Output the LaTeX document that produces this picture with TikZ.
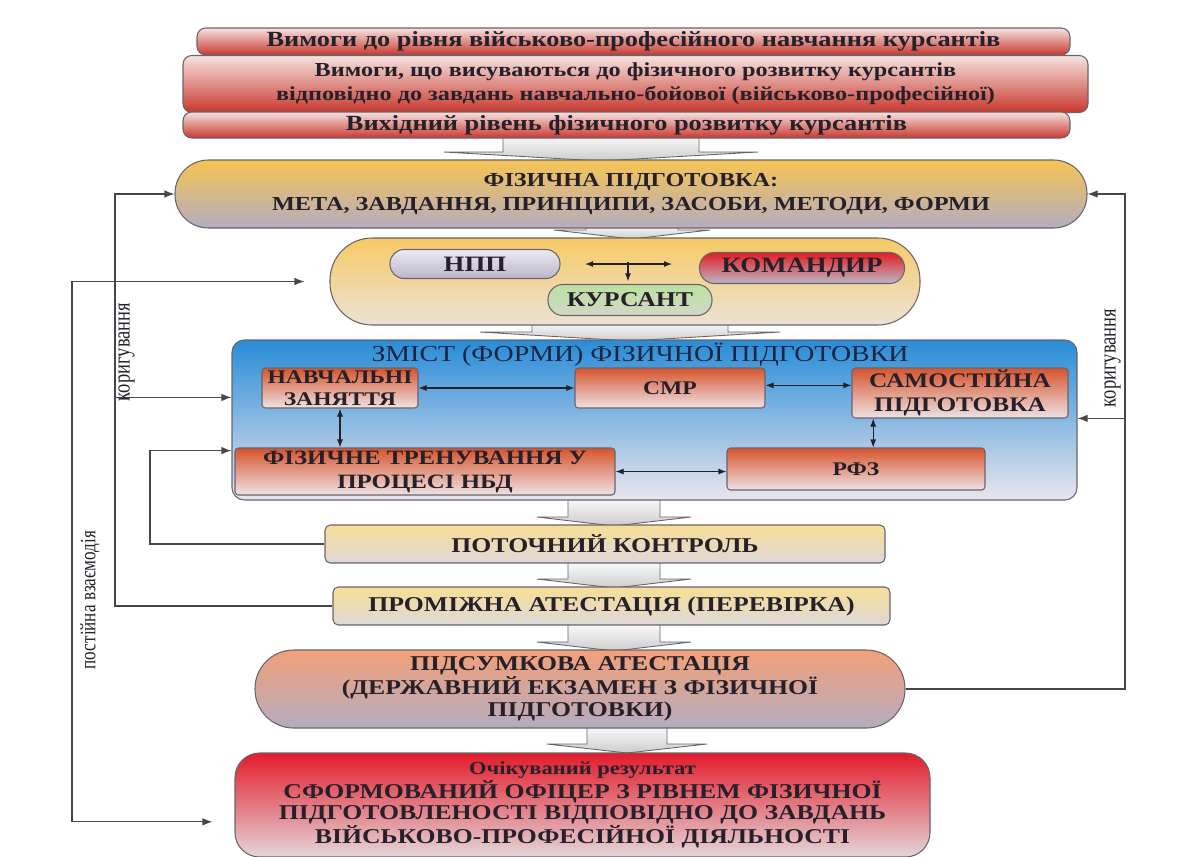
\documentclass[tikz,border=0pt]{standalone}
\usepackage{fontspec}
\setmainfont{Liberation Serif}[FakeStretch=1.22]
\newfontfamily\narrowfont{Liberation Serif}[FakeStretch=0.78]
\usetikzlibrary{calc,arrows.meta}
\newcommand\fsz[2]{\fontsize{#1}{#2}\selectfont}
\definecolor{ink}{RGB}{38,32,42}
\definecolor{navy}{RGB}{28,36,64}
\definecolor{rim}{RGB}{105,100,108}
\definecolor{wire}{RGB}{70,70,75}
\definecolor{rosetop}{RGB}{246,226,224}
\definecolor{redbot}{RGB}{200,55,45}
\definecolor{goldtop}{RGB}{246,196,84}
\definecolor{greybot}{RGB}{180,172,192}
\definecolor{lilac}{RGB}{236,234,242}
\definecolor{lilacbot}{RGB}{186,182,200}
\definecolor{cmdred}{RGB}{226,30,34}
\definecolor{leaf}{RGB}{188,226,158}
\definecolor{leafbot}{RGB}{210,214,200}
\definecolor{skytop}{RGB}{40,140,215}
\definecolor{skybot}{RGB}{234,230,238}
\definecolor{ochre}{RGB}{214,84,44}
\definecolor{ochrebot}{RGB}{238,226,228}
\definecolor{paletop}{RGB}{247,222,150}
\definecolor{palebot}{RGB}{222,216,216}
\definecolor{salmon}{RGB}{242,160,120}
\definecolor{resred}{RGB}{226,28,44}
\definecolor{resbot}{RGB}{228,214,216}
%% wide grey arrow between two blocks: centre x, top, tip, stem half width, head half width
\newcommand{\flowarrow}[5]{\draw[rim,line width=0.5pt,top color=white,bottom color=gray!40]
	(#1-#4,#2) -- (#1-#4,#3-9) -- (#1-#5,#3-9) -- (#1,#3) -- (#1+#5,#3-9) -- (#1+#4,#3-9) -- (#1+#4,#2);}

\begin{document}
\begin{tikzpicture}[x=0.02cm,y=-0.02cm,>={Latex[length=2mm,width=1.5mm]},
	every node/.style={inner sep=0pt,align=center,text=ink},
	dim/.style 2 args={minimum width=#1*0.02cm,minimum height=#2*0.02cm},
	bar/.style={draw=rim,line width=0.6pt,rounded corners=#1,font=\bfseries\fsz{11.3}{13.6}},
	bar/.default=5pt,
	redbar/.style={bar,top color=rosetop,bottom color=redbot},
	goldbar/.style={bar=#1,top color=goldtop,bottom color=greybot},
	innerbox/.style={bar=2pt,top color=ochre,bottom color=ochrebot,font=\bfseries\fsz{11}{12.4}},
	palebar/.style={bar=3pt,top color=paletop,bottom color=palebot,font=\bfseries\fsz{12}{14}},
	link/.style={draw=wire,line width=0.7pt},
	dbl/.style={draw=ink,line width=0.6pt,{Latex[length=1.6mm,width=1.2mm]}-{Latex[length=1.6mm,width=1.2mm]}},
	note/.style={font=\narrowfont\fsz{13.5}{14},rotate=90,text=ink}]
\useasboundingbox (0,0) rectangle (1189,856);

\coordinate (lx1) at (72,0);
\coordinate (lx2) at (115,0);
\coordinate (lx3) at (150,0);
\coordinate (rx) at (1125,0);

%% grey block arrows first, the blocks cover their stems
\flowarrow{601}{133}{161}{98}{157}
\flowarrow{632}{224}{239}{46}{78}
\flowarrow{630}{320}{341}{98}{150}
\flowarrow{614}{495}{526}{46}{77}
\flowarrow{614}{560}{588}{46}{77}
\flowarrow{614}{622}{651}{46}{77}
\flowarrow{627}{724}{753}{40}{80}

%% requirements
\node[redbar,dim={873}{27},font=\bfseries\fsz{12.3}{13.6}] (reqA) at (633.5,41.5) {Вимоги до рівня військово-професійного навчання курсантів};
\node[redbar,dim={905}{57}] (reqB) at (635.5,84) {Вимоги, що висуваються до фізичного розвитку курсантів\\
	відповідно до завдань навчально-бойової (військово-професійної)};
\node[redbar,dim={887}{26},font=\bfseries\fsz{12.3}{13.6}] (reqC) at (626.5,125) {Вихідний рівень фізичного розвитку курсантів};

\node[goldbar=19pt,dim={912}{68}] (phys) at (631,194) {ФІЗИЧНА ПІДГОТОВКА:\\МЕТА, ЗАВДАННЯ, ПРИНЦИПИ, ЗАСОБИ, МЕТОДИ, ФОРМИ};

%% participants
\node[goldbar=24pt,dim={590}{87},top color=goldtop!90,bottom color=greybot!60!goldtop!40] (grp) at (625,281.5) {};
\node[bar=8pt,dim={170}{29},top color=lilac,bottom color=lilacbot,font=\bfseries\fsz{12.5}{14}] (npp) at (475,264) {НПП};
\node[bar=8.5pt,dim={205}{31},top color=cmdred,bottom color=lilacbot,font=\bfseries\fsz{12.5}{14}] (cmd) at (802,268) {КОМАНДИР};
\node[bar=8.5pt,dim={164}{31},top color=leaf,bottom color=leafbot,font=\bfseries\fsz{12}{14}] (cad) at (630,300) {КУРСАНТ};
\coordinate (hub) at (628,262);
\draw[dbl] (npp.east -| 585,0) -- (npp.east -| 672,0);
\draw[link,->,draw=ink,line width=0.6pt,>={Latex[length=1.6mm,width=1.2mm]}] (hub) -- ([yshift=1.5pt]cad.north -| hub);

%% content of physical training
\node[bar=7pt,dim={845}{160},top color=skytop,bottom color=skybot] (cont) at (654.5,420) {};
\node[font=\fsz{13}{14},text=navy] (title) at (640,355) {ЗМІСТ (ФОРМИ) ФІЗИЧНОЇ ПІДГОТОВКИ};
\node[innerbox,dim={156}{40}] (les) at (340,388) {НАВЧАЛЬНІ\\ЗАНЯТТЯ};
\node[innerbox,dim={190}{40}] (smr) at (670,388) {СМР};
\node[innerbox,dim={216}{50},font=\bfseries\fsz{11.8}{14}] (self) at (960,393) {САМОСТІЙНА\\ПІДГОТОВКА};
\node[innerbox,dim={380}{47},font=\bfseries\fsz{11.6}{13.6}] (nbd) at (425,471.5) {ФІЗИЧНЕ ТРЕНУВАННЯ У\\ПРОЦЕСІ НБД};
\node[innerbox,dim={258}{42}] (rfz) at (856,469) {РФЗ};
\draw[dbl] (les.east) -- (les.east -| smr.west);
\draw[dbl] ([yshift=1.5pt]smr.east) -- ([yshift=1.5pt]smr.east -| self.west);
\draw[dbl] (les.south) -- (les.south |- nbd.north);
\draw[dbl] ($(self.south west)!0.1!(self.south east)$) coordinate (s1) -- (s1 |- rfz.north);
\draw[dbl] (nbd.east) -- (nbd.east -| rfz.west);

%% control and result
\node[palebar,dim={560}{38}] (cur) at (605,544) {ПОТОЧНИЙ КОНТРОЛЬ};
\node[palebar,dim={557}{38}] (mid) at (611.5,606) {ПРОМІЖНА АТЕСТАЦІЯ (ПЕРЕВІРКА)};
\node[bar=22pt,dim={650}{78},top color=salmon,bottom color=greybot,font=\bfseries\fsz{12}{12.6}] (fin) at (580,689)
	{ПІДСУМКОВА АТЕСТАЦІЯ\\(ДЕРЖАВНИЙ ЕКЗАМЕН З ФІЗИЧНОЇ\\ПІДГОТОВКИ)};
\node[bar=14pt,dim={695}{104},top color=resred,bottom color=resbot,font=\bfseries\fsz{12}{11.9}] (res) at (582.5,805)
	{{\fsz{10.5}{11.9}Очікуваний результат}\\СФОРМОВАНИЙ ОФІЦЕР З РІВНЕМ ФІЗИЧНОЇ\\
	ПІДГОТОВЛЕНОСТІ ВІДПОВІДНО ДО ЗАВДАНЬ\\ВІЙСЬКОВО-ПРОФЕСІЙНОЇ ДІЯЛЬНОСТІ};

%% feedback lines
\coordinate (cin1) at ($(cont.north west)!0.36!(cont.south west)$);
\coordinate (cin2) at ($(cont.north west)!0.69!(cont.south west)$);
\coordinate (cout) at ($(cont.north east)!0.49!(cont.south east)$);
\coordinate (rin) at ($(res.north west)!0.66!(res.south west)$);

\draw[link,->] (mid.west) -- (mid.west -| lx2) -- (phys.west -| lx2) -- (phys.west);
\draw[link,->] (cin1 -| lx2) -- (cin1);
\draw[link,->] (cur.west) -- (cur.west -| lx3) -- (cin2 -| lx3) -- (cin2);
\draw[link,<->] ([xshift=-0.5cm]grp.west) -- (grp.west -| lx1) -- (rin -| lx1) -- ([xshift=-0.44cm]rin);
\draw[link,->] (fin.east) -- (fin.east -| rx) -- (phys.east -| rx) -- (phys.east);
\draw[link,->] (cout -| rx) -- (cout);

\node[note,anchor=north] (kor1) at (118,352) {коригування};
\node[note,anchor=south] (kor2) at (1121,358) {коригування};
\node[note,anchor=north,font=\narrowfont\fsz{12.5}{14}] (inter) at (80,600) {постійна взаємодія};
\end{tikzpicture}
\end{document}
